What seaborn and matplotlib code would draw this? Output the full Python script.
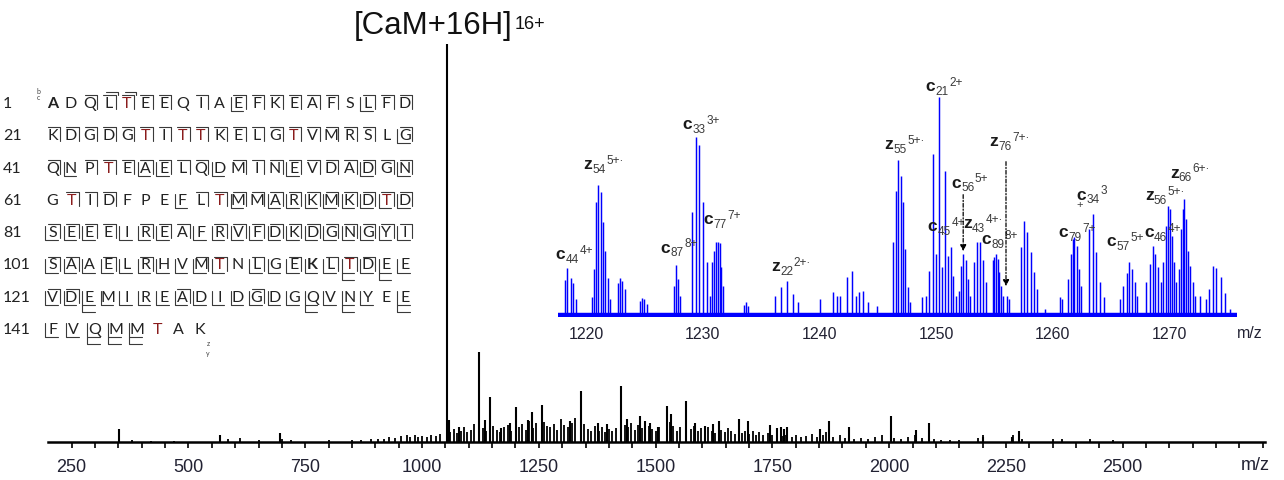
import matplotlib
matplotlib.use("Agg")
import matplotlib.pyplot as plt
import numpy as np
import pandas as pd
import seaborn as sns

# ---------------- data ----------------
# main spectrum: prominent peaks (m/z, relative intensity)
main_mz = [351, 568, 696, 1053, 1058, 1080, 1122, 1135, 1145, 1168, 1189, 1201,
           1226, 1235, 1256, 1317, 1340, 1377, 1395, 1426, 1438, 1467, 1478,
           1489, 1506, 1524, 1533, 1565, 1584, 1605, 1623, 1636, 1679, 1698,
           1745, 1760, 1768, 1775, 1781, 1852, 1872, 1915, 2003, 2057, 2086,
           2201, 2262, 2278]
main_int = [3.2, 1.7, 2.1, 100, 5.5, 3.6, 22.6, 5.5, 11.2, 3.4, 4.8, 8.8,
            5.5, 7.4, 9.2, 5.3, 12.8, 4.8, 4.4, 14.1, 5.8, 6.4, 5.3,
            4.6, 3.6, 9.1, 7.0, 10.3, 4.6, 4.0, 4.4, 5.1, 5.7, 5.3,
            4.2, 3.4, 3.7, 3.3, 3.6, 3.3, 5.1, 3.6, 6.5, 3.0, 4.7,
            1.3, 1.1, 2.6]
# main spectrum: minor peaks
minor_mz = [380, 420, 470, 585, 610, 650, 700, 720, 800, 850, 870, 890,
            905, 918, 930, 942, 955, 968, 975, 985, 992, 1000, 1010, 1020, 1030, 1038,
            1060, 1068, 1075, 1083, 1090, 1097, 1104, 1112, 1130, 1137, 1152, 1160,
            1167, 1175, 1183, 1190, 1208, 1215, 1223, 1230, 1238, 1245, 1262, 1268,
            1275, 1283, 1290, 1298, 1305, 1312, 1320, 1328, 1347, 1355, 1362, 1370,
            1378, 1385, 1392, 1400, 1407, 1415, 1434, 1441, 1448, 1456, 1462, 1470,
            1478, 1486, 1492, 1500, 1508, 1530, 1538, 1545, 1552, 1575, 1582, 1590,
            1597, 1605, 1612, 1620, 1628, 1640, 1648, 1655, 1662, 1670, 1678, 1685,
            1692, 1700, 1708, 1715, 1722, 1730, 1740, 1750, 1760, 1770, 1780, 1792,
            1800, 1812, 1822, 1835, 1845, 1858, 1865, 1880, 1895, 1905, 1915, 1925,
            1940, 1955, 1970, 1985, 2010, 2025, 2040, 2055, 2070, 2095, 2110, 2130,
            2150, 2190, 2200, 2265, 2285, 2350, 2370, 2430, 2480]
minor_int = [0.5, 0.3, 0.3, 0.8, 0.9, 0.4, 0.6, 0.4, 0.4, 0.4, 0.5, 0.6,
             0.6, 0.8, 1.2, 0.9, 1.4, 1.6, 1.1, 1.7, 1.3, 1.5, 1.2, 1.8, 1.4, 2.0,
             2.5, 3.2, 2.2, 2.8, 3.6, 2.4, 3.0, 4.4, 3.4, 2.6, 4.0, 3.0,
             2.4, 3.8, 4.2, 2.8, 3.8, 4.4, 3.0, 5.2, 3.4, 4.6, 5.0, 4.0,
             3.6, 4.5, 3.0, 5.6, 4.2, 3.8, 4.8, 6.0, 4.4, 3.2, 2.6, 4.0,
             2.8, 3.6, 2.4, 3.2, 2.6, 3.4, 4.2, 3.8, 4.6, 3.0, 4.2, 3.4,
             2.8, 4.0, 3.2, 2.6, 3.8, 5.0, 4.0, 2.8, 3.6, 3.2, 4.0, 2.6,
             3.4, 2.4, 3.8, 2.8, 2.2, 3.0, 2.4, 3.4, 2.6, 2.0, 3.0, 2.2,
             2.8, 2.0, 2.6, 1.8, 2.4, 1.6, 2.2, 1.6, 2.0, 1.4, 1.8, 1.2,
             1.6, 1.2, 1.4, 2.0, 1.2, 1.6, 2.4, 1.2, 1.8, 1.0, 1.4, 0.8,
             1.0, 0.8, 1.2, 1.6, 1.0, 0.8, 1.2, 1.6, 1.0, 0.6, 0.5, 0.5,
             0.5, 1.0, 1.6, 1.8, 0.8, 0.8, 0.6, 0.8, 0.5]
main_major_ticks = [250, 500, 750, 1000, 1250, 1500, 1750, 2000, 2250, 2500]
main_minor_ticks = [t for t in range(250, 2801, 50) if t not in main_major_ticks]

# inset (zoomed region) peaks
inset_mz = [1218.2, 1218.4, 1218.7, 1218.9, 1219.1,
            1220.49, 1220.69, 1220.86, 1221.05, 1221.26, 1221.48, 1221.65, 1221.86, 1222.06,
            1222.75, 1222.95, 1223.1, 1223.3, 1224.6, 1224.8, 1225.0, 1225.2,
            1227.5, 1227.7, 1227.9, 1228.05,
            1229.06, 1229.4, 1229.71, 1230.03, 1230.34, 1230.65,
            1230.77, 1230.95, 1231.12, 1231.28, 1231.45, 1231.6, 1231.75,
            1233.5, 1233.7, 1233.9,
            1236.2, 1236.7, 1237.2, 1237.7, 1238.2,
            1240.05, 1241.2, 1241.5, 1241.8, 1242.4, 1242.8, 1243.1, 1243.4, 1243.7, 1244.2, 1244.9,
            1246.33, 1246.56, 1246.76, 1246.97, 1247.16, 1247.36, 1247.57, 1247.76,
            1248.77, 1249.14, 1249.42, 1249.76, 1249.99, 1250.28, 1250.49, 1250.77,
            1251.0, 1251.28, 1251.48, 1251.71,
            1251.94, 1252.13, 1252.33, 1252.54, 1252.73, 1252.93,
            1253.25, 1253.5, 1253.76, 1254.02, 1254.28,
            1254.85, 1254.99, 1255.13, 1255.28, 1255.42, 1255.56, 1255.76, 1256.05, 1256.27,
            1257.25, 1257.53, 1257.82, 1258.1, 1258.39, 1258.67, 1259.3,
            1260.62, 1260.82, 1261.33, 1261.53, 1261.7, 1261.87, 1262.05, 1262.22, 1262.42,
            1263.1, 1263.42, 1263.73, 1264.04, 1264.41,
            1265.76, 1266.04, 1266.33, 1266.56, 1266.79, 1267.02, 1267.24,
            1268.04, 1268.33, 1268.56, 1268.78, 1269.04, 1269.27, 1269.47, 1269.68,
            1269.85, 1270.04, 1270.19, 1270.39, 1270.56, 1270.79, 1270.96, 1271.13,
            1271.27, 1271.44, 1271.61, 1271.76, 1271.99, 1272.19,
            1272.6, 1273.13, 1273.41, 1273.76, 1274.04, 1274.39, 1274.76, 1275.18]
inset_int = [17.1, 22.4, 17.9, 15.6, 8.3,
             9.1, 22.0, 52.3, 60.1, 57.1, 43.5, 30.3, 17.7, 8.3,
             15.6, 17.7, 16.5, 12.9, 7.5, 9.0, 8.5, 6.0,
             14.4, 23.8, 17.4, 9.8,
             48.0, 81.8, 78.3, 52.3, 25.3, 9.8,
             25.3, 30.3, 34.1, 34.4, 33.8, 22.7, 14.4,
             5.5, 7.0, 5.0,
             9.8, 13.6, 16.6, 10.6, 6.8,
             8.3, 11.6, 9.5, 9.8, 18.2, 21.2, 9.8, 11.4, 12.1, 6.8, 5.3,
             34.4, 57.6, 71.7, 64.4, 52.3, 31.0, 13.6, 6.8,
             9.1, 9.8, 21.2, 74.2, 28.8, 100.0, 22.7, 66.6,
             28.0, 31.8, 18.9, 9.8,
             12.1, 23.5, 28.8, 25.9, 17.4, 9.8,
             25.3, 34.4, 34.1, 25.9, 15.9,
             25.9, 27.3, 28.8, 26.5, 20.5, 14.4, 9.8, 9.8, 8.3,
             31.8, 43.9, 38.6, 29.5, 20.5, 12.9, 4.0,
             9.1, 8.3, 17.4, 28.8, 35.6, 36.4, 32.6, 22.0, 14.4,
             40.1, 47.0, 29.5, 15.9, 9.1,
             8.3, 14.4, 20.1, 25.3, 22.0, 15.9, 9.8,
             15.9, 24.2, 32.6, 28.8, 22.7, 15.9, 25.0, 41.7,
             50.7, 49.2, 37.1, 25.0, 15.9, 22.0, 40.1, 49.2,
             53.8, 44.7, 30.3, 23.5, 15.9, 9.8,
             9.8, 8.3, 12.9, 23.5, 22.3, 18.2, 11.1, 3.8]
inset_ticks = [1220, 1230, 1240, 1250, 1260, 1270]

# inset ion labels: ion type, index, charge, m/z (left), height
ion_type = ['c', 'z', 'c', 'c', 'c', 'z', 'z', 'c', 'c', 'c', 'z', 'c', 'z',
            'c', 'c', 'c', 'c', 'z', 'z']
ion_num = ['44', '54', '33', '87', '77', '22', '55', '21', '56', '45', '43',
           '89', '76', '34', '79', '57', '46', '56', '66']
ion_charge = ['4+', '5+·', '3+', '8+', '7+', '2+·', '5+·', '2+', '5+', '4+',
              '4+·', '8+', '7+·', '3', '7+', '5+', '4+', '5+·', '6+·']
ion_x = [1217.4, 1219.8, 1228.3, 1226.4, 1230.05, 1235.85, 1245.6, 1249.1,
         1251.3, 1249.3, 1252.3, 1253.9, 1254.6, 1262.05, 1260.5, 1264.6,
         1267.85, 1267.9, 1270.04]
ion_y = [28.8, 69.7, 87.9, 31.8, 44.7, 23.5, 78.8, 105.3, 61.4, 41.7, 42.9,
         35.6, 80.3, 56.0, 38.9, 34.8, 38.9, 55.6, 65.9]
arrow_mz = [1252.33, 1256.0]
arrow_from = [57.0, 72.0]
arrow_to = [28.8, 12.9]

# protein sequence (calmodulin) with fragment markers
seq_rows = ["ADQLTEEQIAEFKEAFSLFD", "KDGDGTITTKELGTVMRSLG",
            "QNPTEAELQDMINEVDADGN", "GTIDFPEFLTMMARKMKDTD",
            "SEEEIREAFRVFDKDGNGYI", "SAAELRHVMTNLGEKLTDEE",
            "VDEMIREADIDGDGQVNYEE", "FVQMMTAK"]
row_start = [1, 21, 41, 61, 81, 101, 121, 141]
top_marks = ["..cbbcc.c.cccccc.ccc", "cccccccccccccccccc.c",
             "c.ccccccc.cccccccccc", ".ccc....cccccccccccc",
             "cccc.ccc.ccccccccccc", "cc.c.c..cc.c.c.ccc..",
             "cc.....c...c........", "........"]
bot_marks = ["..........z......z..", "...................z",
             ".z...zz..z...z...z.z", ".......z..z.zzzzzzzz",
             "zzz.zzz.zzzzzzzzzzzz", "zzzzzzzzzz.zzzzzyzyz",
             "zzyzzzzzzzzzzzyzyz.y", "zzyyy..."]
bold_pos = [(0, 0), (5, 14)]

# ---------------- style ----------------
sns.set_theme(style="white")
plt.rcParams['font.family'] = ['Liberation Sans', 'DejaVu Sans']

W, H = 1284, 481
fig = plt.figure(figsize=(W / 100, H / 100), dpi=100)

# ---------------- main spectrum ----------------
base_px, top_px = 442.7, 45.0
ax = fig.add_axes([48 / W, 1 - base_px / H, (1265 - 48) / W, (base_px - top_px) / H])
main_df = pd.DataFrame({"mz": main_mz, "intensity": main_int})
minor_df = pd.DataFrame({"mz": minor_mz, "intensity": minor_int})
ax.vlines(minor_df["mz"], 0, minor_df["intensity"], color="black", lw=1.3)
ax.vlines(main_df["mz"], 0, main_df["intensity"], color="black", lw=1.5)
ax.set_xlim(199.3, 2804.6)
ax.set_ylim(0, 100)
sns.despine(ax=ax, left=True, top=True, right=True)
ax.spines['bottom'].set_color('black')
ax.spines['bottom'].set_linewidth(1.8)
ax.set_xticks(main_major_ticks)
ax.set_xticks(main_minor_ticks, minor=True)
ax.set_yticks([])
ax.tick_params(axis='x', which='both', bottom=True, direction='out', length=4,
               width=1.2, color='black')
ax.tick_params(axis='x', which='major', labelsize=13, pad=8, labelcolor='#222233')
ax.set_facecolor('none')
ax.text(2784, (base_px - 466) / (base_px - top_px), "m/z", fontsize=13,
        color='#222233', ha='center', va='center',
        transform=ax.get_xaxis_transform())

# ---------------- inset ----------------
ib, itop = 318.3, 98.3
axi = fig.add_axes([558 / W, 1 - ib / H, (1237 - 558) / W, (ib - itop) / H])
axi.set_facecolor('none')
inset_df = pd.DataFrame({"mz": inset_mz, "intensity": inset_int})
axi.vlines(inset_df["mz"], 0, inset_df["intensity"], color="#0000ff", lw=1.05)
axi.axhline(1.0, color="#0000ff", lw=3.2)
axi.set_xlim(1217.6, 1275.8)
axi.set_ylim(0, 100)
for s in axi.spines.values():
    s.set_visible(False)
axi.set_yticks([])
axi.set_xticks(inset_ticks)
axi.tick_params(axis='x', length=0, labelsize=11.5, pad=6.5, labelcolor='#222233')
axi.text(1276.9, (ib - 333) / (ib - itop), "m/z", fontsize=11.5, color='#222233',
         ha='center', va='center', transform=axi.get_xaxis_transform())

for t, n, ch, x, y in zip(ion_type, ion_num, ion_charge, ion_x, ion_y):
    lt = axi.text(x, y - 2.0, t, fontsize=12.5, fontweight='bold', color='#1a1a1a',
                  ha='left', va='baseline', clip_on=False)
    st = axi.annotate(n, xy=(1, 0), xycoords=lt, xytext=(0.2, -0.4),
                      textcoords='offset points', fontsize=8.5, color='#3a3a3a',
                      ha='left', va='baseline')
    axi.annotate(ch, xy=(1, 0), xycoords=(st, lt), xytext=(0.4, 6.0),
                 textcoords='offset points', fontsize=8.5, color='#3a3a3a',
                 ha='left', va='baseline')
axi.text(1262.3, 51.5, '+', fontsize=8, color='#3a3a3a', ha='center',
         va='center', clip_on=False)
for x, y0, y1 in zip(arrow_mz, arrow_from, arrow_to):
    axi.annotate('', xy=(x, y1), xytext=(x, y0),
                 arrowprops=dict(arrowstyle='-|>', color='black', lw=0.9,
                                 linestyle=(0, (3, 1.5, 1, 1.5)),
                                 mutation_scale=9))

# ---------------- overlay: title and sequence ----------------
ov = fig.add_axes([0, 0, 1, 1])
ov.set_xlim(0, W)
ov.set_ylim(H, 0)
ov.axis('off')

title = ov.text(354, 34, '[CaM+16H]', fontsize=22.5, color='#111111',
                ha='left', va='baseline')
ov.annotate('16+', xy=(1, 1), xycoords=title, xytext=(1.5, -3.5),
            textcoords='offset points', fontsize=13, color='#111111',
            ha='left', va='top')

seq_font = ['Lato', 'DejaVu Sans']
row_y0, row_dy = 104, 32.3
for r, (seq, start, tm, bm) in enumerate(zip(seq_rows, row_start, top_marks, bot_marks)):
    y = row_y0 + r * row_dy
    dx = 18.55 if len(seq) == 20 else 21.0
    ov.text(3, y, str(start), fontsize=11.5, family=seq_font, color='#222222',
            ha='left', va='center')
    for i, ch in enumerate(seq):
        x = 52.5 + i * dx
        bold = (r, i) in bold_pos
        col = '#8a1c1c' if ch == 'T' else '#222222'
        ov.text(x, y, ch, fontsize=11.5, family=seq_font, color=col,
                fontweight='bold' if bold else 'normal', ha='center', va='center')
        lc, lw = '#3a3a3a', 0.8
        if tm[i] in 'cb':
            ov.plot([x - 5, x + 7.5, x + 7.5], [y - 8, y - 8, y + 6], color=lc, lw=lw)
        if tm[i] == 'b':
            ov.plot([x - 2, x + 9.5, x + 9.5], [y - 11, y - 11, y - 8], color=lc, lw=lw)
        if bm[i] in 'zy':
            ov.plot([x - 7.5, x - 7.5, x + 5], [y - 6, y + 8, y + 8], color=lc, lw=lw)
        if bm[i] == 'y':
            ov.plot([x - 7.5, x - 7.5, x + 5], [y + 8, y + 15, y + 15], color=lc, lw=lw)

ov.text(38, 91, 'b', fontsize=5, family=seq_font, color='#444444', ha='center', va='center')
ov.text(38, 98, 'c', fontsize=5, family=seq_font, color='#444444', ha='center', va='center')
ov.text(208, 344, 'z', fontsize=5, family=seq_font, color='#444444', ha='center', va='center')
ov.text(208, 354, 'y', fontsize=5, family=seq_font, color='#444444', ha='center', va='center')

fig.savefig("out.png", dpi=100, facecolor='white')
